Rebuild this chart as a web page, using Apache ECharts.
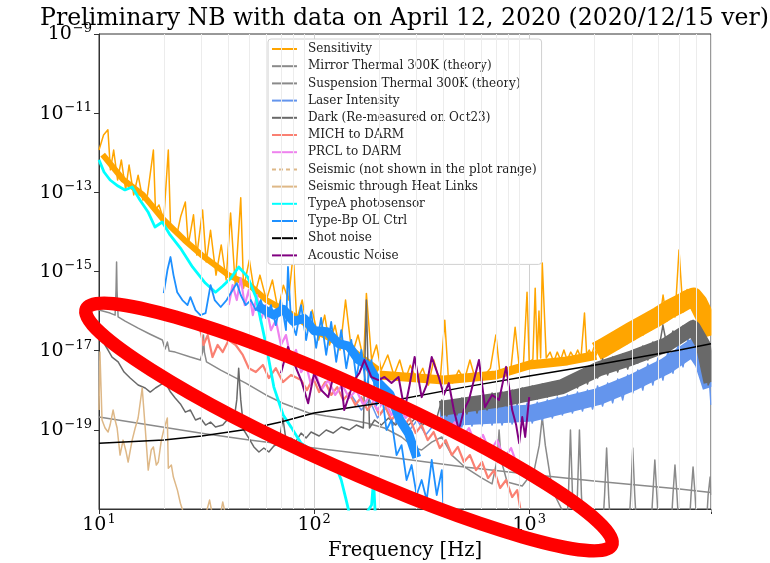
<!DOCTYPE html>
<html><head><meta charset="utf-8">
<script src="https://cdn.jsdelivr.net/npm/echarts@6/dist/echarts.min.js"></script>
<style>html,body{margin:0;padding:0;background:#fff}#c{width:770px;height:563px}</style>
</head><body><div id="c"></div>
<script>
// ---------------- data: [frequency Hz, displacement m/rtHz] ----------------
const sensitivity = [[10,1.17e-12],[10.5,2.8e-12],[11,3.8e-12],[11.3,3.7e-13],[11.7,1.17e-12],[12.2,2.05e-13],[12.7,6.6e-13],[13.3,1.15e-13],[13.8,4.9e-13],[14.5,8.6e-14],[15.2,2.7e-13],[16,6.4e-14],[16.8,8.6e-14],[17.9,1.17e-12],[18.3,3.6e-14],[19,4.8e-14],[20,2e-14],[21,1.17e-12],[21.5,1.5e-14],[23,8.4e-15],[24,2.5e-14],[25.2,5.7e-14],[26,4.7e-15],[27.5,2.7e-14],[28.5,2.6e-15],[30.3,3.6e-14],[31.5,1.74e-15],[33,1.1e-14],[35,8.1e-16],[37,4.7e-15],[39,6.1e-16],[40.9,3e-14],[43,4.5e-16],[45.6,7.3e-14],[47,3.8e-16],[50,1.95e-15],[53,2.55e-16],[56,8.1e-16],[60,1.9e-16],[64,6.1e-16],[68,1.06e-16],[72,4.5e-16],[76,1.9e-16],[80,2.9e-15],[83,5.9e-17],[88,1.9e-16],[93,3.3e-17],[98,1.06e-16],[105,1.86e-17],[112,7.9e-17],[118,1.39e-17],[125,4.4e-17],[132,1.04e-17],[140,1.9e-16],[150,7.8e-18],[160,2.5e-17],[170,5.8e-18],[175,2.8e-16],[185,5.8e-18],[195,1.39e-17],[205,3.2e-18],[220,7.8e-18],[235,2.4e-18],[250,5.8e-18],[265,1.81e-18],[280,4.3e-18],[300,1.81e-18],[320,3.6e-18],[340,1.35e-18],[360,5.8e-18],[385,1.52e-18],[405,5.9e-17],[420,2.4e-18],[440,1.52e-18],[470,3.2e-18],[500,1.81e-18],[530,5.8e-18],[560,2.04e-18],[590,2.9e-18],[620,2.4e-18],[660,3.6e-18],[700,2.5e-17],[730,2.9e-18],[770,3.6e-18],[820,3.0e-18],[860,3.9e-17],[900,3.6e-18],[940,4.5e-18],[977,3.0e-16],[1000,5.2e-18],[1040,6e-18],[1066,3.8e-16],[1090,6e-18],[1110,1.0e-16],[1130,6.5e-18],[1150,1.64e-15],[1200,6.5e-18],[1250,9.2e-18],[1300,5.2e-18],[1350,9.2e-18],[1400,5.8e-18],[1450,1.04e-17],[1500,5.8e-18],[1560,9.2e-18],[1620,6.5e-18],[1680,1.04e-17],[1740,6.5e-18],[1807,8.9e-17],[1850,7.8e-18],[1900,1.04e-17],[1950,7.8e-18],[2000,1.24e-17],[2050,7.8e-18],[2100,1.39e-17],[2150,7.8e-18],[2200,6.5e-18],[2300,1.91e-17],[2400,9.5e-18],[2500,2.55e-17],[2610,1.12e-17],[2720,3.4e-17],[2840,1.47e-17],[2970,4.57e-17],[3100,1.91e-17],[3240,6.1e-17],[3380,2.48e-17],[3530,8.2e-17],[3680,3.3e-17],[3840,1.09e-16],[4010,4.2e-17],[4190,2.55e-16],[4370,5.6e-17],[4560,1.96e-16],[4760,7.1e-17],[4970,3.5e-15],[5190,9.5e-17],[5420,3.5e-16],[5660,1.27e-16],[5900,3.4e-16],[6160,7.9e-17],[6430,1.42e-16],[6710,2.8e-17],[7000,5.9e-17]];
// centre lines of the dense noise mass of the sensitivity
const sensitivityBandLow = [[10.4,9e-13],[13,2.05e-13],[16,8.6e-14],[20,2.0e-14],[25,6.2e-15],[30,2.6e-15],[40,8.1e-16],[50,4.55e-16],[60,1.9e-16],[80,7.9e-17],[100,3.3e-17],[150,1.04e-17],[200,3.24e-18]];
const sensitivityBandMid = [[200,2.43e-18],[400,1.81e-18],[700,2.43e-18],[1000,4.34e-18],[1500,5.5e-18],[2050,7.6e-18]];
const sensitivityBandHigh = [[2050,9.6e-18],[2200,1.17e-17],[2500,1.75e-17],[3000,3.13e-17],[3500,5.0e-17],[4000,7.5e-17],[4500,1.13e-16],[5000,1.51e-16],[5500,2.02e-16],[5800,2.26e-16],[6100,1.6e-16],[6500,7.9e-17],[6800,4.2e-17],[7000,2.4e-17]];

const mirrorThermal = [[10,2.1e-19],[20,1.17e-19],[30,8.2e-20],[50,5.5e-20],[100,3.47e-20],[200,2.2e-20],[500,1.15e-20],[1000,7.6e-21],[2000,5.1e-21],[5000,3.2e-21],[7000,2.6e-21]];

const suspensionThermal = [[10,1.06e-16],[11.26,8.9e-17],[11.88,7.9e-17],[12.0,3.4e-16],[12.07,1.74e-15],[12.13,3.4e-16],[12.27,7.1e-17],[13.23,5.6e-17],[15.2,3.7e-17],[17.3,2.6e-17],[19.7,1.86e-17],[20.3,1.1e-17],[20.8,1.65e-17],[21.2,9.8e-18],[22.6,9.2e-18],[26.6,6.9e-18],[29.6,5.8e-18],[30.3,9.2e-18],[30.6,2.48e-17],[30.9,9.2e-18],[31.6,5.2e-18],[36.8,3.24e-18],[48.1,1.52e-18],[59.7,7.6e-19],[71.6,4.7e-19],[94.5,2.66e-19],[113.8,2.23e-19],[141.1,1.88e-19],[175,1.49e-19],[212.4,1.11e-19],[255,6.6e-20],[293.3,3.47e-20],[316.2,3.1e-20],[352.2,4.9e-20],[392.2,6.6e-20],[436.8,2.3e-20],[501.7,1.15e-20],[603.3,6.05e-21],[671.8,4.3e-21],[709,1.73e-20],[724.4,9.9e-20],[740,1.73e-20],[789.5,4.8e-21],[928,3.8e-21],[1055,9.6e-21],[1114,4.1e-20],[1150,2.1e-19],[1188,4.1e-20],[1281,3.0e-21],[1427,9e-22],[1490,2.9e-22],[1522,2.25e-21],[1555,9.9e-20],[1589,2.25e-21],[1623,2.9e-22],[1640,2.9e-22],[1675,2.25e-21],[1712,9.9e-20],[1749,2.25e-21],[1787,2.9e-22],[2193,2.9e-22],[2241,2.25e-21],[2290,3.47e-20],[2340,2.25e-21],[2391,2.9e-22],[2901,2.9e-22],[2964,2.25e-21],[3029,3.47e-20],[3095,2.25e-21],[3162,2.9e-22],[3675,2.9e-22],[3755,2.25e-21],[3837,1.73e-20],[3921,2.25e-21],[4006,2.9e-22],[4559,2.9e-22],[4658,2.25e-21],[4760,1.29e-20],[4864,2.25e-21],[4970,2.9e-22],[5533,2.9e-22],[5654,2.25e-21],[5777,1.15e-20],[5903,2.25e-21],[6031,2.9e-22],[6643,2.9e-22],[6788,2.25e-21],[6936,6.4e-21],[7000,2.25e-21]];

const laserIntensity = [[149,7.6e-19],[165.8,3.16e-19],[181,5.7e-19],[197,1.99e-19],[214.7,3.56e-19],[234,1.32e-19],[255,2.37e-19],[278,9.9e-20],[302,1.77e-19],[330,7.4e-20],[359.8,1.32e-19],[392,1.11e-19],[414,3.56e-19],[437,1.18e-19],[461,3.77e-19],[486,1.18e-19],[513,3.77e-19],[542,1.25e-19],[572,4.0e-19],[603,1.25e-19],[637,4.0e-19],[672,1.32e-19],[709,4.24e-19],[748,1.32e-19],[790,4.24e-19],[833,1.4e-19],[879,4.5e-19],[928,1.4e-19],[979,4.8e-19],[1033,1.49e-19],[1090,5.0e-19],[1150,1.77e-19],[1214,5.7e-19],[1281,1.99e-19],[1351,6.7e-19],[1427,2.37e-19],[1505,7.6e-19],[1588,2.66e-19],[1676,9.0e-19],[1769,2.98e-19],[1866,1.01e-18],[1970,3.36e-19],[2079,1.28e-18],[2193,4.0e-19],[2315,1.52e-18],[2443,4.8e-19],[2578,1.92e-18],[2720,5.7e-19],[2870,2.43e-18],[3029,8.5e-19],[3197,3.24e-18],[3373,1.01e-18],[3560,4.6e-18],[3757,1.36e-18],[3964,6.5e-18],[4184,1.81e-18],[4415,9.8e-18],[4659,2.7e-18],[4917,1.39e-17],[5188,3.9e-18],[5475,1.96e-17],[5777,5.8e-18],[6095,1.65e-17],[6432,2.43e-18],[6788,5.2e-18],[7000,4.24e-19]];
const laserIntensityBand = [[385,1.99e-19],[1033,2.66e-19],[2123,7.1e-19],[3029,1.57e-18],[4321,4.1e-18],[5777,1.2e-17],[6432,5.0e-18],[7000,1.2e-18]];

const darkNoise = [[10,3.7e-17],[10.3,2.08e-17],[10.67,1.39e-17],[11.0,1.04e-17],[11.5,6.9e-18],[12.27,5.2e-18],[13.08,2.88e-18],[13.96,2.04e-18],[15.2,1.36e-18],[16.4,1.14e-18],[17.3,9e-19],[18.3,1.14e-18],[19.3,1.36e-18],[20.3,1.61e-18],[21.5,9e-19],[22.6,6.4e-19],[23.9,4.5e-19],[25.2,2.8e-19],[26.6,3.16e-19],[28.1,1.77e-19],[29.6,1.99e-19],[31.3,1.32e-19],[33,1.57e-19],[34.8,1.18e-19],[37.6,1.32e-19],[40.1,1.99e-19],[42.3,1.57e-19],[43.7,5.7e-19],[44.6,3.6e-18],[45.6,5.7e-19],[47.1,9.9e-20],[49.7,6.2e-20],[52.5,3.7e-20],[55.4,2.75e-20],[58.4,3.47e-20],[61.6,2.75e-20],[65,3.9e-20],[68.6,4.6e-20],[71.6,1.99e-19],[74,5.5e-20],[78.1,6.2e-20],[82.4,5.2e-20],[87,8.3e-20],[91.8,6.2e-20],[96.8,8.8e-20],[105.5,7e-20],[113.8,9.9e-20],[122.6,8.3e-20],[133.7,1.18e-19],[145.7,9.9e-20],[157.1,1.32e-19],[169.4,1.11e-19],[175,1.9e-16],[180.9,1.11e-19],[191.1,1.77e-19],[205.6,1.32e-19],[221.8,1.99e-19],[239.2,1.32e-19],[255,1.99e-19],[275,1.32e-19],[296.5,1.99e-19],[319.6,1.32e-19],[344.6,1.99e-19],[367.6,1.57e-19],[392,5.7e-19],[414,2.23e-19],[437,6.0e-19],[461,2.37e-19],[486,6.4e-19],[513,2.5e-19],[542,6.7e-19],[572,2.66e-19],[603,7.6e-19],[637,3.16e-19],[672,8.5e-19],[709,3.56e-19],[748,9.0e-19],[790,4.0e-19],[833,1.01e-18],[879,4.5e-19],[928,1.14e-18],[979,5.3e-19],[1033,1.28e-18],[1090,6.0e-19],[1150,1.44e-18],[1214,6.7e-19],[1281,1.61e-18],[1351,7.6e-19],[1427,1.81e-18],[1505,9.6e-19],[1588,2.43e-18],[1676,1.14e-18],[1769,3.24e-18],[1866,1.44e-18],[1970,4.34e-18],[2079,2.04e-18],[2193,6.2e-18],[2315,2.43e-18],[2443,6.9e-18],[2578,2.88e-18],[2720,8.2e-18],[2870,3.44e-18],[3029,1.04e-17],[3197,4.9e-18],[3373,1.31e-17],[3560,5.8e-18],[3757,1.65e-17],[3964,7.8e-18],[4184,4.44e-17],[4415,9.8e-18],[4659,3.13e-17],[4917,1.47e-17],[5188,4.19e-17],[5475,2.08e-17],[5777,5.9e-17],[6095,1.39e-17],[6432,2.48e-17],[6788,1.36e-18],[7000,2.04e-18]];
const darkNoiseBand = [[385,3.45e-19],[748,5.83e-19],[1427,1.24e-18],[2123,3.54e-18],[3029,6.7e-18],[4321,1.39e-17],[5777,3.84e-17],[6432,1.39e-17],[7000,1.6e-18]];

const michToDarm = [[29.6,3.3e-17],[30.6,1.39e-17],[32.0,2.48e-17],[33.7,6.9e-18],[35.6,1.39e-17],[37.6,9.2e-18],[40.1,1.86e-17],[43.2,1.39e-17],[46.6,7.8e-18],[49.7,3.6e-18],[53.6,2.88e-18],[57.8,4.34e-18],[61.6,2.04e-18],[66.4,3.6e-18],[71.6,1.61e-18],[78.1,2.43e-18],[87,1.81e-18],[92.7,1.01e-18],[98.9,2.04e-18],[105.5,9e-19],[112.6,1.61e-18],[120.1,7.6e-19],[128.1,1.2e-18],[136.6,5.7e-19],[145.7,8.5e-19],[155.5,4.24e-19],[165.8,6.7e-19],[176.9,3.16e-19],[188.7,5.0e-19],[201.3,2.37e-19],[214.7,3.77e-19],[229,1.77e-19],[244.3,2.8e-19],[260.6,1.18e-19],[278,1.99e-19],[296.5,8.3e-20],[316.2,1.32e-19],[337.3,5.5e-20],[359.8,8.8e-20],[383.9,3.47e-20],[409.5,5.5e-20],[436.8,2.3e-20],[465.8,3.7e-20],[497,1.54e-20],[530.2,2.3e-20],[565.6,9.6e-21],[603.3,1.54e-20],[643.4,6.05e-21],[686.4,9.6e-21],[732.2,3.39e-21],[781,5.4e-21],[833.2,2.0e-21],[879,3.0e-21],[907.7,1.06e-21]];

const prclToDarm = [[40.1,1.42e-16],[41.8,4.55e-16],[43.7,1.9e-16],[45.6,6.8e-16],[47.6,1.42e-16],[49.7,3.4e-16],[51.9,7.9e-17],[54.2,2.55e-16],[56.5,5.9e-17],[59.7,1.42e-16],[63,3.3e-17],[66.4,5.9e-17],[70.1,1.39e-17],[74,2.48e-17],[78.1,5.8e-18],[82.4,1.04e-17],[87,2.88e-18],[91.8,4.34e-18],[96.8,1.36e-18],[102.2,2.43e-18],[107.8,1.01e-18],[116.3,1.81e-18],[125.4,7.6e-19],[135.1,1.36e-18],[145.7,6.4e-19],[157.1,1.01e-18],[169.4,4.24e-19],[182.7,7.6e-19],[197,3.16e-19],[212.4,5.7e-19],[229,2.37e-19],[246.9,4.24e-19],[266.2,1.99e-19],[287.1,3.16e-19],[309.6,1.57e-19],[333.7,2.8e-19],[359.8,1.32e-19],[388,1.99e-19],[418.3,8.8e-20],[451.1,1.57e-19],[486.4,6.2e-20],[524.4,1.11e-19],[565.6,4.1e-20],[609.5,7.4e-20],[657.5,2.75e-20],[709,5.5e-20],[764.2,1.94e-20],[824,3.47e-20],[879,1.29e-20],[898,8.6e-21]];

const seismic = [];

const seismicHeatLinks = [[10,3.16e-19],[10.1,9.2e-18],[10.33,1.77e-19],[10.67,1.11e-19],[11.02,8.8e-20],[11.26,1.32e-19],[11.63,3.16e-19],[11.88,1.77e-19],[12.14,1.11e-19],[12.53,2.3e-20],[12.94,5.5e-20],[13.37,2.75e-20],[13.66,1.54e-20],[14.26,5.5e-20],[14.73,1.11e-19],[15.2,1.99e-19],[15.88,1.14e-18],[16.4,1.11e-19],[16.94,9.6e-21],[17.5,3.1e-20],[17.9,3.7e-20],[18.47,1.29e-20],[18.87,1.54e-20],[19.49,5.5e-20],[20,9.9e-20],[20.78,1.99e-19],[21.0,1.07e-20],[21.7,1.29e-20],[22.17,6.4e-21],[23.15,3.0e-21],[23.9,1.4e-21],[24.7,8e-22],[26.6,5.5e-22],[31.3,7e-22],[32.66,1.68e-21],[33.7,7e-22],[36.8,8e-22],[37.6,1.5e-21],[38.8,7e-22],[45.6,2.9e-22]];

const typeAPhotosensor = [[10,6.6e-13],[10.55,3.26e-13],[11.26,2.05e-13],[12.26,1.44e-13],[13.2,1.15e-13],[14.27,1.36e-13],[15.5,6.4e-14],[16.9,3.2e-14],[18.2,1.33e-14],[19.7,1.78e-14],[21.4,8.4e-15],[23.9,3.9e-15],[27.2,1.3e-15],[31.2,5.1e-16],[34.8,3.0e-16],[37.6,4.3e-16],[41,6.8e-16],[44.6,1.3e-15],[49.2,7.2e-16],[53.6,2.26e-16],[56.5,5.9e-17],[59.8,1.39e-17],[65,1.2e-18],[71.8,2.37e-19],[78.2,1.17e-19],[87,4.6e-20],[96.9,3.1e-20],[107.9,2.3e-20],[117.6,1.73e-20],[126.6,1.15e-20],[133.7,5.4e-21],[141,1.68e-21],[145.6,8e-22],[166,5e-22],[185,1.26e-21],[189,5.4e-21],[192,9e-22],[220,3e-22]];

const typeBpOLCtrl = [[20.0,2.86e-16],[20.8,1.09e-15],[21.5,2.32e-15],[22.2,8.1e-16],[23.1,3.0e-16],[24.4,1.9e-16],[25.8,1.42e-16],[26.6,2.26e-16],[28.1,1.06e-16],[29.6,7.9e-17],[31.3,8.9e-17],[33.0,4.55e-16],[34.5,1.9e-16],[36.8,1.27e-16],[39.2,1.9e-16],[41.8,3.4e-16],[43.7,5.1e-16],[45.6,2.55e-16],[48.1,1.42e-16],[50.8,1.9e-16],[53.6,1.06e-16],[56.5,1.9e-16],[59.7,6.7e-17],[63.0,1.42e-16],[66.4,4.4e-17],[70.1,1.9e-16],[74.0,3.3e-17],[75.6,1.3e-15],[78.1,5.9e-17],[82.4,2.48e-17],[87,1.42e-16],[91.8,1.86e-17],[96.8,9.5e-17],[102.2,1.17e-17],[107.8,6.7e-17],[113.8,7.8e-18],[120.1,5.3e-17],[126.7,5.2e-18],[133.7,3.3e-17],[141.1,3.6e-18],[148.9,1.86e-17],[157.1,2.04e-18],[165.8,1.04e-17],[175,1.01e-18],[184.7,5.8e-18],[194.9,4.24e-19],[205.6,1.01e-18],[217,9.9e-20],[229,1.77e-19],[241.7,2.3e-20],[255,4.1e-20],[269.1,5.4e-21],[284,1.29e-20],[299.7,2.25e-21],[316.2,5.4e-21],[333.7,1.68e-21],[352.2,1.73e-20],[371.6,2.25e-21],[392.2,9.6e-21],[400,8e-22]];
const typeBpOLCtrlBand = [[55,1.3e-16],[65,8e-17],[72,1.1e-16],[80,5.5e-17],[90,6.5e-17],[100,3.2e-17],[115,3.0e-17],[130,1.5e-17],[145,1.3e-17],[160,6e-18],[180,4e-18],[200,1.5e-18],[225,8e-19],[250,1.8e-19],[275,8e-20],[300,2e-20]];

const shotNoise = [[10,4.6e-20],[20,5.5e-20],[30,7.0e-20],[50,1.05e-19],[70,1.57e-19],[100,2.65e-19],[200,4.7e-19],[500,1.2e-18],[1000,2.29e-18],[2000,4.3e-18],[5000,1.04e-17],[7000,1.5e-17]];

const acousticNoise = [[70.1,2.7e-18],[75.6,1.24e-17],[80.6,4.9e-18],[87,1.81e-18],[93.8,4.7e-19],[100,2.7e-18],[107.8,1.01e-18],[116.3,6.7e-19],[124,2.7e-18],[133.7,1.52e-18],[138.1,3.16e-19],[153.8,1.81e-18],[162.3,2.7e-18],[171.3,5.8e-18],[184.7,2.16e-18],[199.1,1.81e-18],[212.4,2.16e-18],[229,1.52e-18],[246.9,2.16e-18],[263.4,3.16e-19],[278,1.36e-18],[293.3,6.9e-18],[316.2,6.7e-19],[333.7,1.36e-18],[352.2,6.9e-18],[379.7,2.16e-18],[400.9,7.6e-19],[422.9,1.52e-18],[446.2,3.16e-19],[470.9,9.9e-20],[497,3.16e-19],[524.4,5.7e-19],[553.4,1.81e-18],[584,5.8e-18],[622.9,3.77e-19],[671.8,7.6e-19],[724.2,5.7e-19],[781,3.9e-18],[815.2,7.6e-19],[833.2,3.16e-19],[869.7,1.32e-19],[898,4.6e-20],[928,2.1e-19],[957.9,6.6e-20],[1000,6.7e-19]];

// axis settings / tick and grid values
const xMin = 10, xMax = 7000;
const yMin = 1e-21, yMax = 1e-9;
const yLabelExponents = [-21, -19, -17, -15, -13, -11, -9];
const yGridValues = [1e-19, 1e-17, 1e-15, 1e-13, 1e-11];
const minorGridFreqs = [20,30,40,50,60,70,80,90,200,300,400,500,600,700,800,900,2000,3000,4000,5000,6000];

// ---------------- chart ----------------
const serif = 'DejaVu Serif';
const chart = echarts.init(document.getElementById('c'), null, {renderer: 'canvas'});

function line(name, data, color, width, extra) {
  return Object.assign({
    name: name, type: 'line', data: data, symbol: 'none', showSymbol: false,
    lineStyle: {color: color, width: width, join: 'round'}, itemStyle: {color: color},
    silent: true, animation: false, z: 2
  }, extra || {});
}

function powLabel(v, allowed) {
  const e = Math.log10(v);
  const r = Math.round(e);
  if (Math.abs(e - r) > 1e-6) return '';
  if (allowed && allowed.indexOf(r) < 0) return '';
  const s = r < 0 ? '\u2212' + (-r) : '' + r;
  return '{b|10}{s|' + s + '}';
}
const richLabel = {
  b: {fontFamily: serif, fontSize: 19, color: '#000', verticalAlign: 'bottom', lineHeight: 20},
  s: {fontFamily: serif, fontSize: 13, color: '#000', verticalAlign: 'bottom', lineHeight: 14, padding: [0, 0, 9, 1]}
};

const names = ['Sensitivity','Mirror Thermal 300K (theory)','Suspension Thermal 300K (theory)','Laser Intensity','Dark (Re-measured on Oct23)','MICH to DARM','PRCL to DARM','Seismic (not shown in the plot range)','Seismic through Heat Links','TypeA photosensor','Type-Bp OL Ctrl','Shot noise','Acoustic Noise'];

const option = {
  animation: false,
  backgroundColor: '#fff',
  title: {
    text: 'Preliminary NB with data on April 12, 2020 (2020/12/15 ver)',
    left: 35, top: 2,
    textStyle: {fontFamily: serif, fontSize: 23.6, fontWeight: 'normal', color: '#000'}
  },
  grid: {left: 99, right: 59, top: 34, bottom: 54, containLabel: false, outerBoundsMode: 'none',
         show: true, borderColor: '#333', borderWidth: 1},
  legend: {
    data: names, orient: 'vertical', left: 268, top: 39,
    itemWidth: 25, itemHeight: 12, itemGap: 5.2,
    itemStyle: {opacity: 0},
    textStyle: {fontFamily: serif, fontSize: 12, color: '#222', padding: [0, 0, 0, 6]},
    backgroundColor: '#ffffff', borderColor: '#d0d0d0', borderWidth: 1, borderRadius: 3,
    padding: [4, 5, 3, 3], selectedMode: false
  },
  xAxis: {
    type: 'log', logBase: 10, min: xMin, max: xMax, interval: 1,
    name: 'Frequency [Hz]', nameLocation: 'middle', nameGap: 32,
    nameTextStyle: {fontFamily: serif, fontSize: 19.5, color: '#000'},
    axisLine: {show: true, lineStyle: {color: '#333'}},
    axisTick: {show: true, inside: false, length: 5, lineStyle: {color: '#333'}},
    axisLabel: {formatter: v => powLabel(v), rich: richLabel, margin: 6, hideOverlap: false, interval: 0},
    splitLine: {show: true, lineStyle: {color: '#d0d0d0', width: 1}}
  },
  yAxis: {
    type: 'log', logBase: 10, min: yMin, max: yMax, interval: 2,
    name: 'Displacement [m/\u221AH\u0305z\u0305]', nameLocation: 'middle', nameGap: 75, nameRotate: 90,
    nameTextStyle: {fontFamily: serif, fontSize: 19.5, color: '#000'},
    axisLine: {show: true, lineStyle: {color: '#333'}},
    axisTick: {show: true, inside: false, length: 5, lineStyle: {color: '#333'}},
    axisLabel: {formatter: v => powLabel(v, yLabelExponents), rich: richLabel, margin: 7, hideOverlap: false, interval: 0},
    splitLine: {show: false}
  },
  series: [
    {type: 'line', data: [], silent: true, z: 1, symbol: 'none',
     markLine: {silent: true, symbol: ['none', 'none'], label: {show: false}, animation: false,
       data: minorGridFreqs.map(f => ({xAxis: f, lineStyle: {color: '#ececec', type: 'solid', width: 1}}))
         .concat(yGridValues.map(v => ({yAxis: v, lineStyle: {color: '#d0d0d0', type: 'solid', width: 1}})))}},
    line(names[0], sensitivity, '#FFA500', 1.5),
    line(names[0], sensitivityBandLow, '#FFA500', 6),
    line(names[0], sensitivityBandMid, '#FFA500', 9),
    line(names[0], sensitivityBandHigh, '#FFA500', 19),
    line(names[1], mirrorThermal, '#8a8a8a', 1.5),
    line(names[2], suspensionThermal, '#8a8a8a', 1.5),
    line(names[3], laserIntensity, '#6495ED', 1.5),
    line(names[3], laserIntensityBand, '#6495ED', 17),
    line(names[4], darkNoise, '#696969', 1.5),
    line(names[4], darkNoiseBand, '#696969', 15),
    line(names[5], michToDarm, '#FA8072', 2.2),
    line(names[6], prclToDarm, '#EE82EE', 2.2),
    line(names[7], seismic, '#DEB887', 1.5, {lineStyle: {color: '#DEB887', width: 1.5, type: [4, 3]}}),
    line(names[8], seismicHeatLinks, '#DEB887', 1.5),
    line(names[9], typeAPhotosensor, '#00FFFF', 2.8),
    line(names[10], typeBpOLCtrl, '#1E90FF', 1.8),
    line(names[10], typeBpOLCtrlBand, '#1E90FF', 9),
    line(names[11], shotNoise, '#000000', 1.5),
    line(names[12], acousticNoise, '#800080', 2)
  ],
  graphic: [
    // white margin right of the plot frame, hiding the overflow of the thick noise bands
    {type: 'rect', shape: {x: 711.5, y: 30, width: 60, height: 482}, style: {fill: '#fff'}, z: 50, silent: true},
    {type: 'ellipse', x: 349, y: 427, rotation: -24.2 * Math.PI / 180,
     shape: {cx: 0, cy: 0, rx: 288, ry: 41},
     style: {fill: 'none', stroke: '#ff0000', lineWidth: 13.5},
     z: 100, silent: true}
  ]
};
chart.setOption(option);
</script>
</body></html>
